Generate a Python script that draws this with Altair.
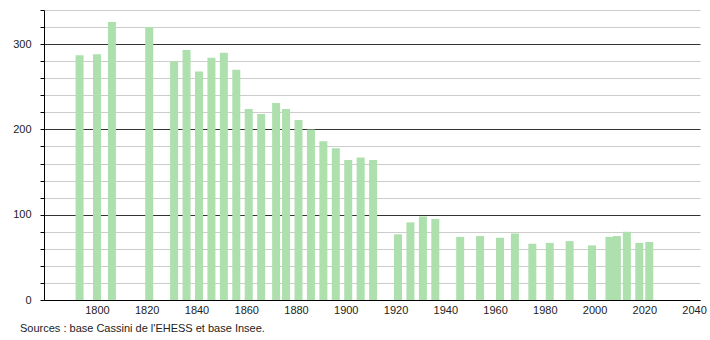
import altair as alt
import pandas as pd

years = [1793, 1800, 1806, 1821, 1831, 1836, 1841, 1846, 1851, 1856,
         1861, 1866, 1872, 1876, 1881, 1886, 1891, 1896, 1901, 1906,
         1911, 1921, 1926, 1931, 1936, 1946, 1954, 1962, 1968, 1975,
         1982, 1990, 1999, 2006, 2009, 2013, 2018, 2022]
population = [287, 288, 326, 320, 280, 293, 268, 284, 290, 270,
              224, 218, 231, 224, 211, 200, 186, 178, 164, 167,
              164, 77, 91, 98, 95, 74, 75, 73, 78, 66,
              67, 69, 64, 74, 75, 80, 67, 68]
y_ticks = list(range(0, 341, 20))
x_labels = list(range(1800, 2041, 20))
source = "Sources : base Cassini de l'EHESS et base Insee."

df = pd.DataFrame({"year": years, "pop": population})

FONT = "Liberation Sans"

x_scale = alt.Scale(domain=[1778.7, 2042.4], nice=False, zero=False, padding=0)
y_scale = alt.Scale(domain=[0, 340], nice=False)

grid_color = {"condition": {"test": "datum.value % 100 === 0", "value": "#333333"},
              "value": "#cccccc"}

chart = alt.Chart(df).mark_bar(width=8, color="#ade0ad").encode(
    x=alt.X("year:Q", scale=x_scale,
            axis=alt.Axis(values=x_labels, tickCount=20, format="d", title=None, grid=False,
                          ticks=False, labelPadding=4, labelFont=FONT, labelFontSize=11,
                          labelColor="#222", domainColor="#000", labelFlush=False,
                          labelOverlap=False)),
    y=alt.Y("pop:Q", scale=y_scale,
            axis=alt.Axis(values=y_ticks, tickCount=40, title=None, grid=True,
                          gridColor=grid_color, gridWidth=1, tickSize=4, tickColor="#000",
                          domainColor="#000", labelPadding=9, labelFont=FONT,
                          labelFontSize=11, labelColor="#222", labelOverlap=False,
                          labelExpr="datum.value % 100 === 0 ? datum.label : ''")),
).properties(
    width=656, height=290,
    padding={"left": 44, "top": 10, "right": 10, "bottom": 40},
    autosize=alt.AutoSizeParams(type="none"),
    title=alt.TitleParams(source, orient="bottom", anchor="start", fontSize=11,
                          fontWeight="normal", font=FONT, color="#222", frame="group",
                          dx=-24, offset=8),
).configure_view(stroke=None)

chart.save("out.html", embed_options={"renderer": "svg", "actions": False})
